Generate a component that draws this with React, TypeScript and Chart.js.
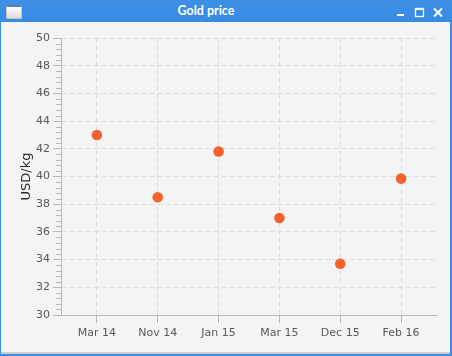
import React, { useEffect, useRef } from "react";
import { Chart, registerables } from "chart.js";

Chart.register(...registerables);

const windowTitle = "Gold price";
const categories = ["Mar 14", "Nov 14", "Jan 15", "Mar 15", "Dec 15", "Feb 16"];
const prices = [43.0, 38.5, 41.8, 37.0, 33.7, 39.85];
const yTitle = "USD/kg";
const yMin = 30;
const yMax = 50;
const yStep = 2;
const yMinorPerMajor = 5;

const TICK_COLOR = "#b9b9b9";
const GRID_COLOR = "#dedede";
const FONT = "'DejaVu Sans', sans-serif";

const minorTicks = {
  id: "minorTicks",
  afterDraw(chart: any) {
    const y = chart.scales.y;
    const ctx = chart.ctx;
    const left = chart.chartArea.left;
    ctx.save();
    ctx.strokeStyle = TICK_COLOR;
    ctx.lineWidth = 1;
    const minorStep = yStep / yMinorPerMajor;
    const n = Math.round((yMax - yMin) / minorStep);
    for (let i = 0; i <= n; i++) {
      if (i % yMinorPerMajor === 0) continue;
      const py = Math.round(y.getPixelForValue(yMin + i * minorStep)) + 0.5;
      ctx.beginPath();
      ctx.moveTo(left - 5, py);
      ctx.lineTo(left, py);
      ctx.stroke();
    }
    ctx.restore();
  },
};

export default function App() {
  const ref = useRef<HTMLCanvasElement>(null);
  useEffect(() => {
    if (!ref.current) return;
    const chart = new Chart(ref.current, {
      type: "scatter",
      data: {
        datasets: [
          {
            data: prices.map((v, i) => ({ x: i, y: v })),
            backgroundColor: "#f3622d",
            borderColor: "#f3622d",
            borderWidth: 0,
            pointRadius: 5.3,
          },
        ],
      },
      options: {
        animation: false,
        responsive: false,
        devicePixelRatio: 1,
        layout: { padding: { left: 0, top: 16, right: 13, bottom: 0 } },
        plugins: {
          legend: { display: false },
          title: { display: false },
          tooltip: { enabled: false },
        },
        scales: {
          x: {
            type: "linear",
            min: -0.59,
            max: categories.length - 1 + 0.59,
            afterBuildTicks: (scale: any) => {
              scale.ticks = categories.map((_, i) => ({ value: i }));
            },
            afterFit: (scale: any) => {
              scale.height = 37;
            },
            ticks: {
              callback: (v: any) => categories[Math.round(Number(v))] ?? "",
              color: "#595959",
              font: { family: FONT, size: 11 },
              padding: 4,
              maxRotation: 0,
              autoSkip: false,
            },
            grid: {
              color: GRID_COLOR,
              tickColor: TICK_COLOR,
              tickLength: 8,
              tickBorderDash: [],
              lineWidth: 1,
            },
            border: { display: true, color: TICK_COLOR, width: 1, dash: [5, 3] },
          },
          y: {
            min: yMin,
            max: yMax,
            afterFit: (scale: any) => {
              scale.width = 60;
            },
            ticks: {
              stepSize: yStep,
              color: "#595959",
              font: { family: FONT, size: 11 },
              padding: 3,
            },
            grid: {
              color: GRID_COLOR,
              tickColor: TICK_COLOR,
              tickLength: 8,
              tickBorderDash: [],
              lineWidth: 1,
            },
            border: { display: true, color: TICK_COLOR, width: 1, dash: [5, 3] },
            title: {
              display: true,
              text: yTitle,
              color: "#2b2b2b",
              font: { family: FONT, size: 13 },
              padding: { top: 18, bottom: 0 },
            },
          },
        },
      },
      plugins: [minorTicks],
    } as any);
    return () => chart.destroy();
  }, []);

  return (
    <div
      style={{
        position: "fixed",
        left: 0,
        top: 0,
        width: 452,
        height: 356,
        background: "#f4f4f4",
        overflow: "hidden",
      }}
    >
      <div
        style={{
          position: "absolute",
          left: 0,
          top: 0,
          width: 452,
          height: 22,
          background: "linear-gradient(#3d90e6, #388ae2)",
        }}
      >
        <div
          style={{
            position: "absolute",
            left: 6,
            top: 5,
            width: 14,
            height: 11,
            borderRadius: 2,
            border: "1px solid #c8c8c8",
            background: "linear-gradient(#ffffff, #dcdcdc)",
            borderTop: "2px solid #5a7fb8",
          }}
        />
        <div
          style={{
            position: "absolute",
            left: 0,
            top: 0,
            width: 412,
            height: 22,
            lineHeight: "22px",
            textAlign: "center",
            color: "#ffffff",
            fontFamily: "Lato, 'Open Sans', sans-serif",
            fontWeight: 700,
            fontSize: 12.5,
          }}
        >
          {windowTitle}
        </div>
        <svg
          style={{ position: "absolute", left: 0, top: 0 }}
          width={452}
          height={22}
        >
          <rect x={397} y={14} width={7} height={2} fill="#ffffff" />
          <rect x={415.5} y={8.5} width={8} height={8} fill="none" stroke="#ffffff" strokeWidth={1.3} />
          <rect x={415} y={8} width={9} height={2} fill="#ffffff" />
          <path d="M434 8.5 L442 16.5 M442 8.5 L434 16.5" stroke="#ffffff" strokeWidth={2} />
        </svg>
      </div>
      <div style={{ position: "absolute", left: 0, top: 22, width: 1, height: 334, background: "#3a8de4" }} />
      <div style={{ position: "absolute", left: 450, top: 22, width: 2, height: 334, background: "#3a8de4" }} />
      <div style={{ position: "absolute", left: 1, top: 352, width: 449, height: 2, background: "#cdcdcd" }} />
      <div style={{ position: "absolute", left: 0, top: 354, width: 452, height: 2, background: "#3a8de4" }} />
      <div style={{ position: "absolute", left: 1, top: 22, width: 449, height: 330 }}>
        <canvas ref={ref} width={449} height={330} style={{ display: "block", width: 449, height: 330 }} />
      </div>
    </div>
  );
}
